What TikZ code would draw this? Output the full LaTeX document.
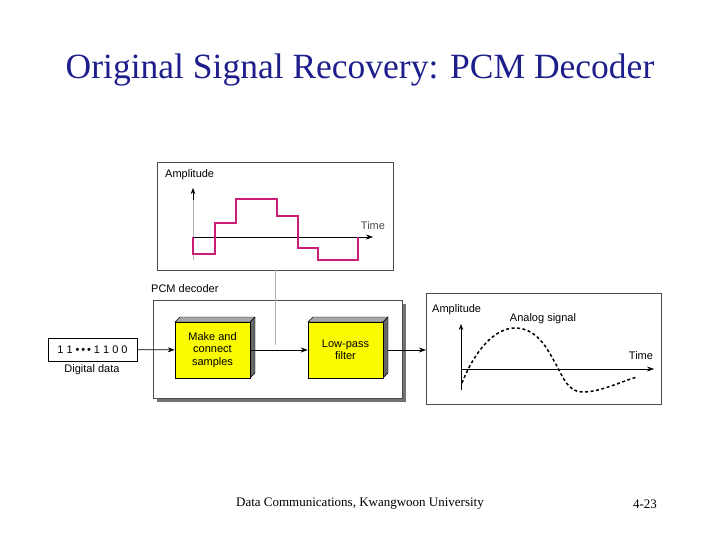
\documentclass[tikz,border=0pt]{standalone}
\usepackage{fontspec}
\setmainfont{Liberation Serif}
\newfontfamily\lsans{Liberation Sans}
\usetikzlibrary{arrows.meta}
\definecolor{titleblue}{RGB}{30,30,140}
\definecolor{mag}{RGB}{200,30,120}
\definecolor{boxyellow}{RGB}{250,250,0}
\begin{document}
\begin{tikzpicture}[x=1pt,y=-1pt,
  lab/.style={font=\lsans\fontsize{11}{13}\selectfont,inner sep=0pt},
  frame/.style={draw=black!70,fill=white,line width=0.6pt},
  arr/.style={-{Stealth[length=7pt,width=5pt]},line width=0.7pt},
  face/.style={draw=black,fill=boxyellow,line width=0.5pt,minimum width=75pt,minimum height=56pt,align=center,font=\lsans\fontsize{11}{12.5}\selectfont}]
\useasboundingbox (0,0) rectangle (720,540);
\node[text=titleblue,font=\fontsize{35.5}{40}\selectfont] (title) at (360,70) {Original Signal Recovery: PCM Decoder};
% top box
\draw[frame] (157,162) rectangle (393,270);
\node[lab,anchor=west] (amp1) at (165,175) {Amplitude};
\draw[black!30,line width=0.8pt] (193,260) -- (193,200);
\draw[-{Stealth[length=6pt]},line width=0.5pt] (193,200) -- (193,188);
\draw[arr,line width=0.5pt] (193,237) -- (373,237);
\node[lab,anchor=south,text=black!70] (time1) at (373,230) {Time};
\draw[mag,line width=1.3pt] (193,237) -- (193,254) -- (215,254) -- (215,223) -- (236,223) -- (236,199) -- (277,199) -- (277,216) -- (298,216) -- (298,248) -- (318,248) -- (318,260) -- (358,260) -- (358,237);
% connector
\coordinate (g1) at (275,270);
\coordinate (g2) at (275,345);
\draw[black!30,line width=0.6pt] (g1) -- (g2);
% decoder
\node[lab,anchor=west] (pcm) at (151,289) {PCM decoder};
\fill[black!55] (157,304) rectangle (406,402);
\draw[frame] (153,300) rectangle (402,398);
\draw[black!30,line width=0.6pt] (275,300) -- (275,345);
% digital data
\node[draw,line width=0.5pt,minimum width=89pt,minimum height=23pt,inner sep=0pt,font=\lsans\fontsize{11}{12}\selectfont] (dd) at (92.5,349.5) {1 1 \textbullet\,\textbullet\,\textbullet\ 1 1 0 0};
\node[lab] (ddl) at (92,370) {Digital data};
% blocks
\foreach \n/\x/\t in {b1/212.5/{Make and\\connect\\samples},b2/345.5/{Low-pass\\filter}}{
  \fill[black!35,draw=black,line width=0.4pt] (\x-37.5,322) -- (\x-32.5,317) -- (\x+42.5,317) -- (\x+37.5,322) -- cycle;
  \fill[black!60,draw=black,line width=0.4pt] (\x+37.5,322) -- (\x+42.5,317) -- (\x+42.5,373) -- (\x+37.5,378) -- cycle;
  \node[face] (\n) at (\x,350) {\t};
}
\coordinate (out) at (426,350);
\draw[arr] (dd) -- (b1);
\draw[arr] (b1.east) -- (b2.west);
\draw[arr] (b2.east) ++(5,0) -- (out);
% right box
\draw[frame] (426,293) rectangle (661,404);
\node[lab,anchor=west] (amp2) at (432,310) {Amplitude};
\node[lab] (as) at (543,319) {Analog signal};
\draw[-{Stealth[length=6pt]},line width=0.5pt] (461,390) -- (461,324);
\draw[arr,line width=0.5pt] (461,369) -- (654,369);
\node[lab,anchor=south] (time2) at (641,360) {Time};
\draw[dash pattern=on 3pt off 2.5pt,line width=1.5pt] (462,383) .. controls (475,350) and (495,328) .. (515,328) .. controls (540,328) and (550,355) .. (558,368) .. controls (566,385) and (572,392) .. (583,392) .. controls (600,392) and (620,382) .. (637,377);
% footer
\node[font=\fontsize{13}{15}\selectfont] (foot) at (360,504) {Data Communications, Kwangwoon University};
\node[font=\fontsize{13}{15}\selectfont] (page) at (645,504) {4-23};
\end{tikzpicture}
\end{document}
